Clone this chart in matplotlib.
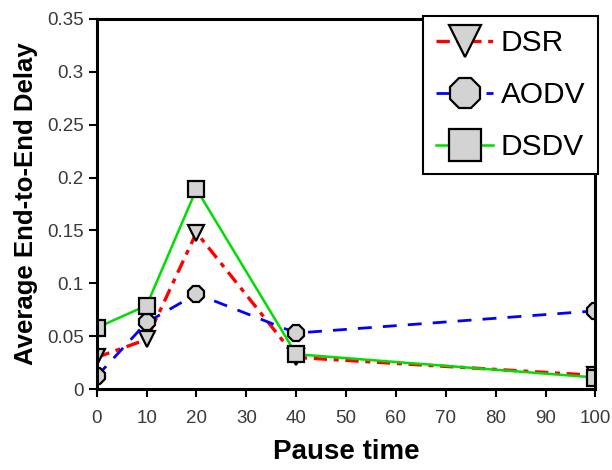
import numpy as np
import matplotlib.pyplot as plt

pause = [0, 10, 20, 40, 100]
dsr = [0.030, 0.047, 0.148, 0.030, 0.013]
aodv = [0.012, 0.063, 0.090, 0.053, 0.074]
dsdv = [0.058, 0.079, 0.189, 0.033, 0.011]

plt.rcParams['font.family'] = ['Liberation Sans', 'DejaVu Sans']

fig = plt.figure(figsize=(6.12, 4.7), dpi=100)
ax = fig.add_axes([0.158, 0.172, 0.815, 0.788])

mk = dict(markersize=12, markerfacecolor='#d3d3d3', markeredgecolor='black', markeredgewidth=1.6)
ax.plot(pause, dsr, color='red', linestyle=(0, (4, 2, 1.5, 2)), linewidth=2.4, marker='v', label='DSR', **mk)
ax.plot(pause, aodv, color='blue', linestyle=(0, (5, 4)), linewidth=2.0, marker='8', label='AODV', **mk)
ax.plot(pause, dsdv, color='#00dd00', linestyle='-', linewidth=1.8, marker='s', label='DSDV', **mk)

ax.set_xlim(0, 100)
ax.set_ylim(0, 0.35)
ax.set_xticks(np.arange(0, 101, 10))
ax.set_yticks(np.arange(0, 0.351, 0.05))
ax.set_yticklabels(['0', '0.05', '0.1', '0.15', '0.2', '0.25', '0.3', '0.35'])
ax.tick_params(direction='out', length=6, width=1.5, labelsize=13.5, colors='black', labelcolor='#3a3a3a')
ax.tick_params(axis='x', pad=9)
for s in ax.spines.values():
    s.set_linewidth(2.2)

ax.set_xlabel('Pause time', fontsize=20, fontweight='bold', labelpad=9)
ax.set_ylabel('Average End-to-End Delay', fontsize=18.5, fontweight='bold', labelpad=6)

leg = ax.legend(loc='upper right', markerscale=1.9, fancybox=False, framealpha=1,
                edgecolor='black', borderpad=0.45, handlelength=1.9, labelspacing=0.8,
                handletextpad=0.25, borderaxespad=-0.1, prop={'size': 21.5})
leg.get_frame().set_linewidth(1.5)

fig.savefig('out.png', dpi=100)
